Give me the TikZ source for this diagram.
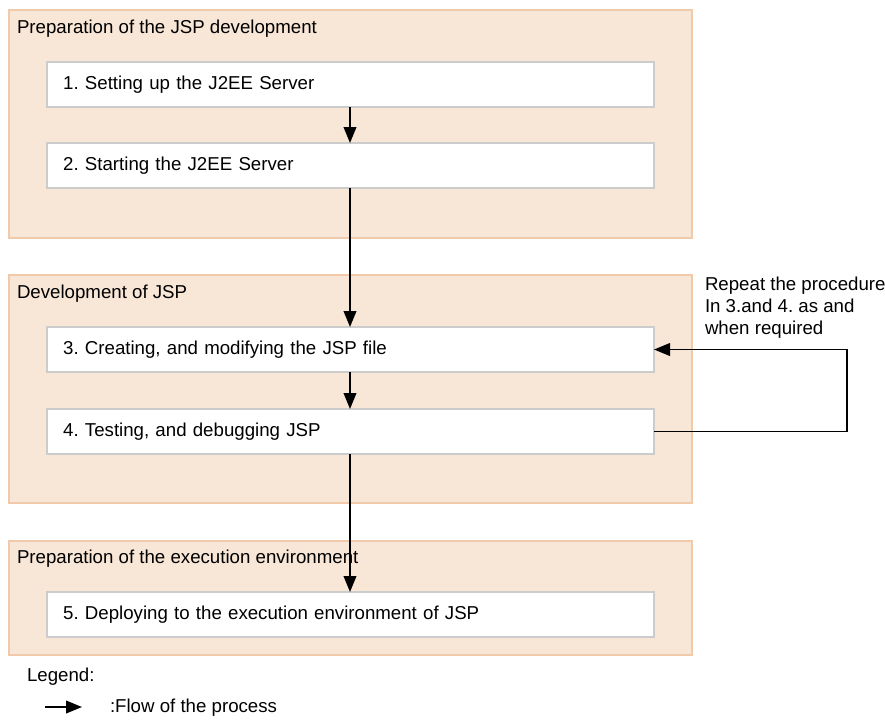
\documentclass[tikz,border=0pt]{standalone}
\usepackage{fontspec}
\setmainfont{Liberation Sans}
\usetikzlibrary{arrows.meta}
\definecolor{groupfill}{RGB}{248,230,214}
\definecolor{groupline}{RGB}{240,202,170}
\definecolor{boxline}{RGB}{204,204,204}
\frenchspacing
\begin{document}
\begin{tikzpicture}[x=0.75pt,y=-0.75pt,
  every node/.style={font=\fontsize{14}{16.5}\selectfont, inner sep=0pt, outer sep=0pt},
  group/.style={draw=groupline, line width=1pt, fill=groupfill, anchor=north west,
    minimum width=512.25pt},
  stepbox/.style={draw=boxline, line width=1.5pt, fill=white, anchor=north west,
    minimum width=455.25pt, minimum height=33.75pt, text width=431pt, inner xsep=12pt, align=left},
  label/.style={anchor=west},
  flow/.style={line width=1.3pt, -{Triangle[length=12pt,width=9.5pt]}}]
\useasboundingbox (0,0) rectangle (885,719);

% process groups
\node[group, minimum height=171pt] (g1) at (9,10) {};
\node[group, minimum height=171pt] (g2) at (9,275) {};
\node[group, minimum height=85.5pt] (g3) at (9,541) {};
\node[label] (t1) at (17,29) {Preparation of the JSP development};
\node[label] (t2) at (17,294) {Development of JSP};
\node[label] (t3) at (17,559) {Preparation of the execution environment};

% steps
\node[stepbox] (b1) at (47,62) {1. Setting up the J2EE Server};
\node[stepbox] (b2) at (47,143) {2. Starting the J2EE Server};
\node[stepbox] (b3) at (47,327) {3. Creating, and modifying the JSP file};
\node[stepbox] (b4) at (47,409) {4. Testing, and debugging JSP};
\node[stepbox] (b5) at (47,592) {5. Deploying to the execution environment of JSP};

% flow between steps
\coordinate (axis) at (350,0);
\draw[flow] (b1.south -| axis) -- (b2.north -| axis);
\draw[flow] (b2.south -| axis) -- (b3.north -| axis);
\draw[flow] (b3.south -| axis) -- (b4.north -| axis);
\draw[flow] (b4.south -| axis) -- (b5.north -| axis);

% repeat loop from 4 back to 3
\coordinate (loop) at (847,0);
\draw[flow] (b4.east) -- (b4.east -| loop) -- (b3.east -| loop) -- (b3.east);
\node[anchor=north west, align=left, font=\fontsize{14}{16.5}\selectfont] (rep) at (705,277)
  {Repeat the procedure\\In 3.and 4. as and\\when required};

% legend
\node[label] (leg) at (27,677) {Legend:};
\coordinate (la) at (45,707);
\coordinate (lb) at (82,707);
\draw[flow] (la) -- (lb);
\node[label] (legt) at (110,708) {:Flow of the process};
\end{tikzpicture}
\end{document}
